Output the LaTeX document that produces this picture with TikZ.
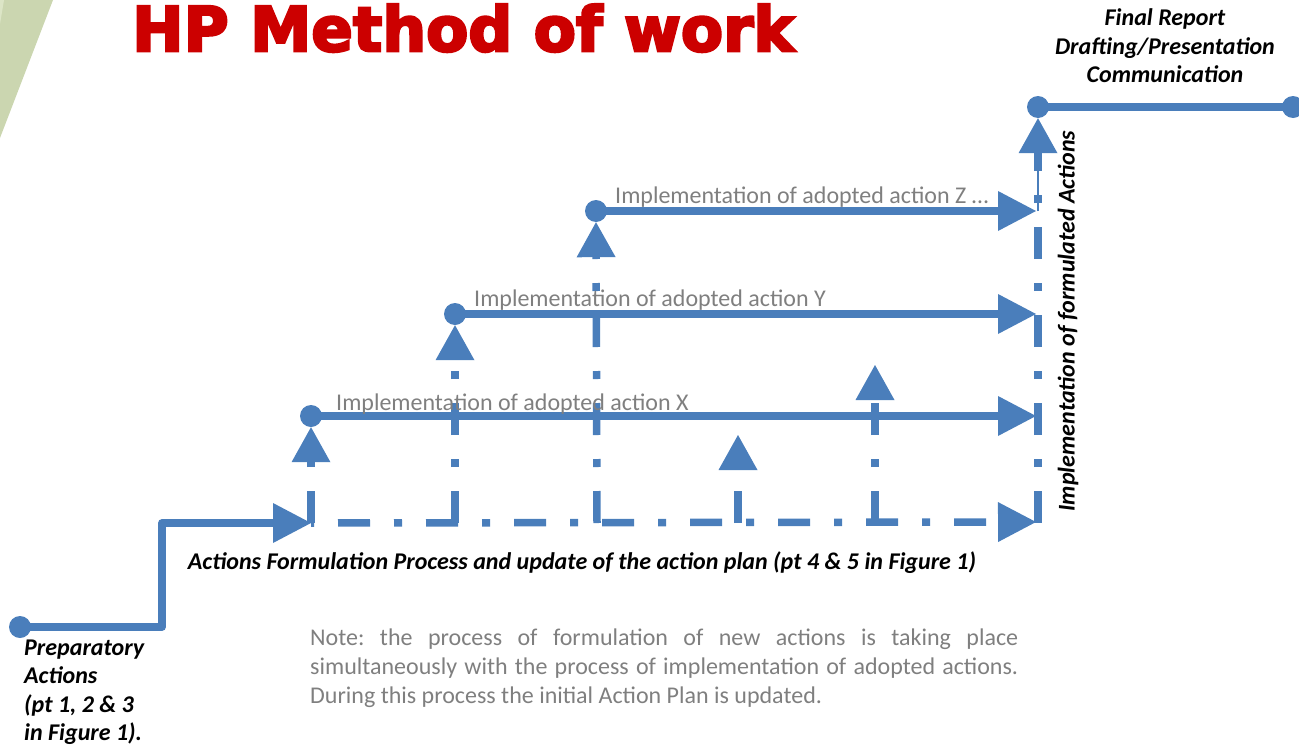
\documentclass[tikz,border=0pt]{standalone}
\usepackage{fontspec}
\usepackage{graphicx}
\setmainfont{Carlito}
\newfontfamily\titlefont{DejaVu Sans}[BoldFont={* Bold}, BoldFeatures={FakeBold=4}]
\usetikzlibrary{arrows.meta}
\definecolor{flow}{HTML}{4A7EBB}
\definecolor{labelgray}{HTML}{7F7F7F}
\definecolor{greendark}{HTML}{CBD6B0}
\definecolor{greenlight}{HTML}{DCE5C6}
\definecolor{titlered}{HTML}{CC0000}
\begin{document}
\frenchspacing
\begin{tikzpicture}[x=1pt,y=-1pt,
  flowline/.style={draw=flow, line width=7.5pt, line join=round},
  dashdot/.style={flowline, dash pattern=on 32pt off 24pt on 8pt off 24pt},
  htip/.style={-{Triangle[length=38pt,width=40pt,line width=0pt]}},
  vtip/.style={-{Triangle[length=35pt,width=39pt,line width=0pt]}},
  dot/.style={circle, fill=flow, minimum size=22pt, inner sep=0pt},
  lbl/.style={text=labelgray, font=\fontsize{24}{28}\selectfont, anchor=base west, inner sep=0pt},
  bi/.style={inner sep=0pt, font=\fontsize{24}{28.5}\selectfont\bfseries\itshape}]
\useasboundingbox (0,0) rectangle (1299,747);
% background shapes
\fill[greendark] (0,0) -- (53,0) -- (0,138) -- cycle;
\fill[greenlight] (0,0) -- (4,0) -- (0,24) -- cycle;
% title
\node[anchor=north west, inner sep=0pt, text=titlered] (title) at (132,4)
  {\resizebox{662pt}{47pt}{\titlefont\bfseries HP Method of work}};
% dots and coordinates
\node[dot] (p0) at (20,627) {};
\coordinate (c1) at (162,627);
\coordinate (c2) at (162,523);
\coordinate (bl) at (311,523);
\coordinate (b2) at (455,523);
\coordinate (b3) at (597,523);
\coordinate (b4) at (738,523);
\coordinate (b5) at (875,523);
\coordinate (b6) at (1038,523);
\coordinate (eB) at (1036,522);
\node[dot] (dX) at (311,416) {};
\node[dot] (dY) at (455,314) {};
\node[dot] (dZ) at (596,211) {};
\node[dot] (dT) at (1038,107) {};
\node[dot] (dE) at (1293,107) {};
\coordinate (eX) at (1036,416);
\coordinate (eY) at (1036,314);
\coordinate (eZ) at (1036,211);
\coordinate (zb) at (1038,211);
\coordinate (zt) at (1038,168);
\coordinate (tA) at (738,435);
\coordinate (tB) at (875,365);
% preparatory step
\draw[flowline, htip] (p0.center) -- (c1) -- (c2) -- (bl);
% baseline
\draw[dashdot, dash phase=61pt, htip] (bl) -- (eB);
% verticals
\draw[dashdot, vtip] (bl) -- (dX.south);
\draw[dashdot, vtip] (b2) -- (dY.south);
\draw[dashdot, vtip] (b3) -- (dZ.south);
\draw[dashdot, vtip] (b4) -- (tA);
\draw[dashdot, vtip] (b5) -- (tB);
\draw[dashdot, vtip] (b6) -- (dT.south);
\draw[draw=flow, line width=1.8pt] (zb) -- (zt);
% implementation lines
\draw[flowline, htip] (dX.center) -- (eX);
\draw[flowline, htip] (dY.center) -- (eY);
\draw[flowline, htip] (dZ.center) -- (eZ);
\draw[flowline, line width=8pt] (dT.center) -- (dE.center);
% labels
\node[lbl] (lX) at (336,410) {Implementation of adopted action X};
\node[lbl] (lY) at (474,306) {Implementation of adopted action Y};
\node[lbl] (lZ) at (615,203) {Implementation of adopted action Z …};
\node[bi, align=center] (final) at (1165,46) {Final Report\\Drafting/Presentation\\Communication};
\node[bi, rotate=90] (impl) at (1068,321) {Implementation of formulated Actions};
\node[bi] (form) at (582,563) {Actions Formulation Process and update of the action plan (pt 4 \& 5 in Figure 1)};
\node[bi, align=left, anchor=west] (prep) at (24,692) {Preparatory\\Actions\\(pt 1, 2 \& 3\\in Figure 1).};
\node[anchor=north west, inner sep=0pt, text width=708pt, align=justify, text=labelgray,
  font=\fontsize{24}{29}\selectfont] (note) at (310,629)
  {\hyphenpenalty=10000 Note: the process of formulation of new actions is taking place\linebreak simultaneously with the process of implementation of adopted actions.\linebreak During this process the initial Action Plan is updated.};
\end{tikzpicture}
\end{document}
